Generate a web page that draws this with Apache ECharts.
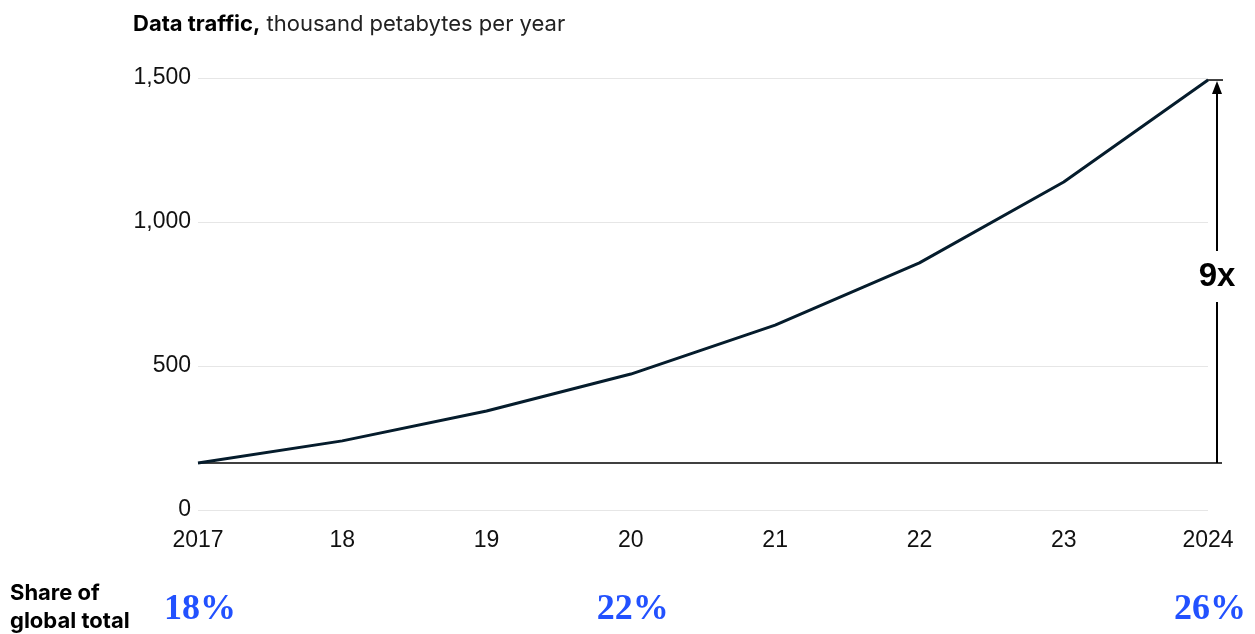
<!DOCTYPE html>
<html>
<head>
    <meta charset="UTF-8">
    <title>Data traffic</title>
    <style>
        html, body {
            height: 100%;
            width: 100%;
            margin: 0;
            padding: 0;
            background: #fff;
        }
    </style>
    <script src="https://cdn.jsdelivr.net/npm/echarts@6/dist/echarts.min.js"></script>
</head>
<body>
<div id="main" style="width: 1255px; height: 634px;"></div>

<script type="text/javascript">
    // x轴 years
    var years = ['2017', '18', '19', '20', '21', '22', '23', '2024'];
    // data traffic, thousand petabytes per year
    var traffic = [163, 240, 344, 472, 642, 858, 1139, 1493];
    var yTicks = [0, 500, 1000, 1500];
    // share of global total
    var shareYears = ['2017', '20', '2024'];
    var shareValues = [18, 22, 26];

    var sans = 'Liberation Sans, Arial, sans-serif';
    var wide = 'Inter, Liberation Sans, sans-serif';
    var blue = '#2251ff';
    var navy = '#051c2c';

    var myChart = echarts.init(document.getElementById('main'));
    var option = {
        animation: false,
        title: {
            left: 128,
            top: 8,
            text: '{b|Data traffic,} thousand petabytes per year',
            textStyle: {
                fontFamily: wide,
                fontSize: 22,
                fontWeight: 'normal',
                color: '#222',
                rich: {
                    b: {fontFamily: wide, fontSize: 22, fontWeight: 'bold', color: '#000'}
                }
            }
        },
        grid: {
            left: 198,
            right: 47,
            top: 78,
            bottom: 124
        },
        xAxis: {
            type: 'category',
            data: years,
            boundaryGap: false,
            axisLine: {show: false},
            axisTick: {show: false},
            axisLabel: {
                margin: 19,
                color: '#111',
                fontFamily: sans,
                fontSize: 23
            }
        },
        yAxis: {
            type: 'value',
            min: yTicks[0],
            max: yTicks[yTicks.length - 1],
            interval: yTicks[1] - yTicks[0],
            axisLine: {show: false},
            axisTick: {show: false},
            splitLine: {lineStyle: {color: '#e6e6e6', width: 1}},
            axisLabel: {
                margin: 7,
                color: '#111',
                fontFamily: sans,
                fontSize: 23,
                formatter: function (v) {
                    return v.toLocaleString('en-US');
                }
            }
        },
        series: [{
            type: 'line',
            data: traffic,
            symbol: 'none',
            z: 5,
            lineStyle: {color: navy, width: 3}
        }]
    };
    myChart.setOption(option);

    // annotations: baseline, 9x arrow and share row
    var p0 = myChart.convertToPixel({seriesIndex: 0}, [0, traffic[0]]);
    var p1 = myChart.convertToPixel({seriesIndex: 0}, [years.length - 1, traffic[traffic.length - 1]]);
    var ax = p1[0] + 9;
    var ratio = Math.round(traffic[traffic.length - 1] / traffic[0]) + 'x';
    var midY = (p0[1] + p1[1]) / 2 + 5;

    var elements = [
        {
            type: 'line', z: 3,
            shape: {x1: p0[0], y1: p0[1], x2: ax + 5, y2: p0[1]},
            style: {stroke: '#000', lineWidth: 1.5}
        },
        {
            type: 'line', z: 3,
            shape: {x1: ax, y1: p0[1], x2: ax, y2: p1[1] + 10},
            style: {stroke: '#000', lineWidth: 2}
        },
        {
            type: 'line', z: 3,
            shape: {x1: p1[0] - 1, y1: p1[1], x2: ax + 6, y2: p1[1]},
            style: {stroke: '#000', lineWidth: 1.5}
        },
        {
            type: 'polygon', z: 3,
            shape: {points: [[ax, p1[1] + 1], [ax - 5, p1[1] + 14], [ax + 5, p1[1] + 14]]},
            style: {fill: '#000'}
        },
        {
            type: 'text', z: 4,
            x: ax, y: midY,
            style: {
                text: ratio,
                fontFamily: sans,
                fontSize: 33,
                fontWeight: 'bold',
                fill: '#000',
                align: 'center',
                verticalAlign: 'middle',
                backgroundColor: '#fff',
                padding: [9, 2, 9, 2]
            }
        },
        {
            type: 'text',
            x: 10, y: 607,
            style: {
                text: 'Share of\nglobal total',
                fontFamily: wide,
                fontSize: 22,
                fontWeight: 'bold',
                lineHeight: 28,
                fill: '#000',
                verticalAlign: 'middle'
            }
        }
    ];
    for (var i = 0; i < shareYears.length; i++) {
        var px = myChart.convertToPixel({xAxisIndex: 0}, shareYears[i]);
        elements.push({
            type: 'text',
            x: px + 2, y: 610,
            style: {
                text: shareValues[i] + '%',
                fontFamily: 'Liberation Serif, DejaVu Serif, serif',
                fontSize: 36,
                fontWeight: 'bold',
                fill: blue,
                align: 'center',
                verticalAlign: 'middle'
            }
        });
    }
    myChart.setOption({graphic: {elements: elements}});
</script>
</body>
</html>
